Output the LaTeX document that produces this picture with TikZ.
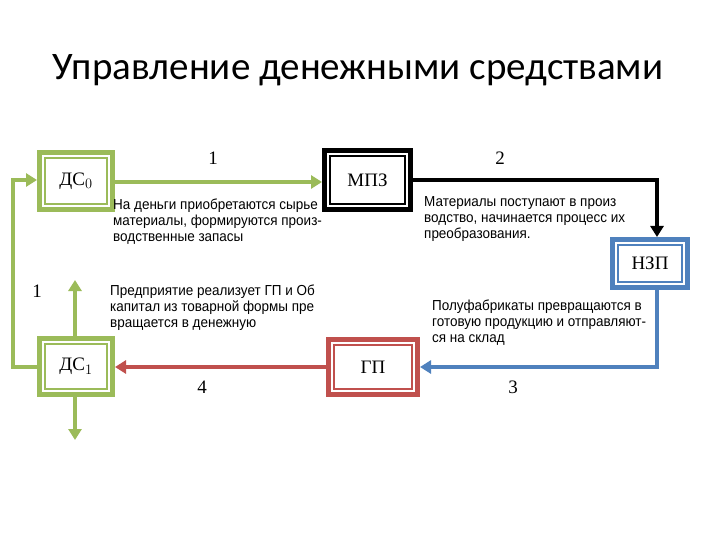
\documentclass[tikz,border=0pt]{standalone}
\usepackage{fontspec}
\setmainfont{Liberation Serif}
\newfontfamily\titlefont{Carlito}
\newfontfamily\notefont{Liberation Sans}
\usetikzlibrary{arrows.meta}
\definecolor{cg}{HTML}{9BBB59}
\definecolor{cb}{HTML}{4F81BD}
\definecolor{cr}{HTML}{C0504D}
\tikzset{
  box/.style={draw=#1,line width=5pt,fill=white,font=\fontsize{19}{20}\selectfont,inner sep=0pt},
  conn/.style={draw=#1,line width=4pt,-{Triangle[length=11pt,width=13pt]},color=#1},
  note/.style={font=\notefont\fontsize{14.5}{16}\selectfont,align=left,anchor=north west,inner sep=0pt,xscale=0.93},
  num/.style={font=\fontsize{19}{20}\selectfont}
}
\newcommand{\innerbox}[2]{\draw[#2,line width=1.5pt] ([xshift=8pt,yshift=-8pt]#1.north west) rectangle ([xshift=-8pt,yshift=8pt]#1.south east);}
\begin{document}
\begin{tikzpicture}[x=1pt,y=-1pt]
\useasboundingbox (0,0) rectangle (720,540);
\node[font=\titlefont\fontsize{39}{42}\selectfont] (title) at (358,70) {Управление денежными средствами};
\node[box=cg,minimum width=73pt,minimum height=57pt] (ds0) at (76,181) {ДС$_0$};
\node[box=black,minimum width=86pt,minimum height=59pt] (mpz) at (367.5,180) {МПЗ};
\node[box=cb,minimum width=75pt,minimum height=48pt] (nzp) at (650,263.5) {НЗП};
\node[box=cr,minimum width=89pt,minimum height=55pt] (gp) at (373,367) {ГП};
\node[box=cg,minimum width=73pt,minimum height=56pt] (ds1) at (76,366.5) {ДС$_1$};
\innerbox{ds0}{cg}\innerbox{mpz}{black}\innerbox{nzp}{cb}\innerbox{gp}{cr}\innerbox{ds1}{cg}
\coordinate (c2) at (657,180);
\coordinate (c3) at (657,367);
\coordinate (l1) at (13,367);
\coordinate (l2) at (13,180);
\coordinate (up) at (75,280);
\coordinate (dn) at (75,440);
\draw[conn=cg] (ds0.east |- 0,182) -- (mpz.west |- 0,182);
\draw[conn=black] (mpz.east |- c2) -- (c2) -- (nzp.north -| c2);
\draw[conn=cb] (nzp.south -| c3) -- (c3) -- (gp.east |- c3);
\draw[conn=cr] (gp.west) -- (ds1.east |- gp.west);
\draw[conn=cg] (ds1.west |- l1) -- (l1) -- (l2) -- (ds0.west |- l2);
\draw[conn=cg] (ds1.north -| up) -- (up);
\draw[conn=cg] (ds1.south -| dn) -- (dn);
\node[num] (n1) at (213,158) {1};
\node[num] (n2) at (500,158) {2};
\node[num] (n3) at (513,387) {3};
\node[num] (n4) at (202,387) {4};
\node[num] (n5) at (37,291) {1};
\node[note] (t1) at (113,199) {На деньги приобретаются сырье\\материалы, формируются произ-\\водственные запасы};
\node[note] (t2) at (424,196) {Материалы поступают в произ\\водство, начинается процесс их\\преобразования.};
\node[note] (t3) at (110,285) {Предприятие реализует ГП и Об\\капитал из товарной формы пре\\вращается в денежную};
\node[note] (t4) at (432,300) {Полуфабрикаты превращаются в\\готовую продукцию и отправляют-\\ся на склад};
\end{tikzpicture}
\end{document}
